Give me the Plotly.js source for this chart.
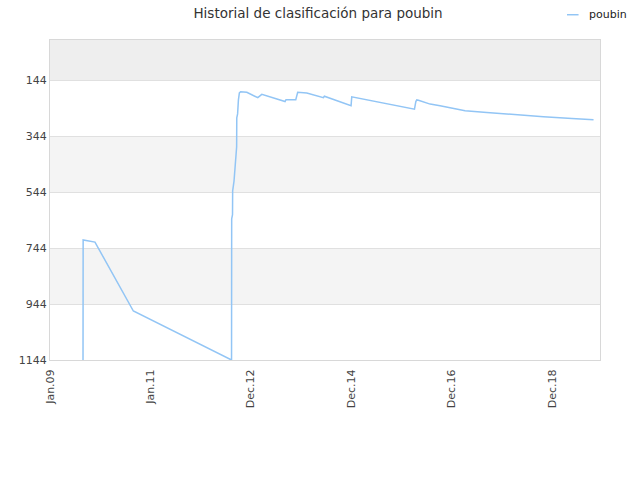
<!DOCTYPE html>
<html>
<head>
<meta charset="utf-8">
<script src="https://cdn.plot.ly/plotly-3.0.1.min.js"></script>
<style>
  html, body { margin: 0; padding: 0; background: #fff; }
  #chart { width: 640px; height: 480px; }
</style>
</head>
<body>
<div id="chart"></div>
<script>
// rank history (lower rank = better, axis reversed)
var seriesName = 'poubin';
var dates = [
  '2009-08-29', '2009-08-30', '2009-11-24', '2010-08-30', '2012-08-13',
  '2012-08-14', '2012-08-20', '2012-08-21', '2012-08-31', '2012-09-07',
  '2012-09-14', '2012-09-19', '2012-09-20', '2012-09-26', '2012-10-02',
  '2012-10-09', '2012-10-18', '2012-12-02', '2013-02-20', '2013-03-21',
  '2013-09-06', '2013-09-13', '2013-11-23', '2013-12-07', '2014-02-11',
  '2014-06-12', '2014-06-19', '2014-12-30', '2015-01-04', '2015-03-06',
  '2016-04-04', '2016-04-14', '2016-04-21', '2016-05-03', '2016-07-27',
  '2016-10-07', '2017-01-12', '2017-04-07', '2017-09-12', '2018-04-06',
  '2018-10-29', '2019-05-24', '2019-10-28'
];
var ranks = [
  1144, 715, 723, 969, 1144,
  640, 625, 540, 505, 470,
  420, 383, 279, 265, 215,
  190, 186, 188, 207, 195,
  221, 214, 214, 188, 190,
  207, 202, 236, 204, 210,
  248, 221, 215, 216, 230,
  236, 245, 254, 260, 268,
  275, 281, 286
];

var xTickVals = ['2009-01-01', '2011-01-01', '2012-12-31', '2014-12-31', '2016-12-30', '2018-12-30'];
var xTickText = ['Jan.09', 'Jan.11', 'Dec.12', 'Dec.14', 'Dec.16', 'Dec.18'];
var yTickVals = [144, 344, 544, 744, 944, 1144];
var yTop = 1;

var lineColor = '#92c5f5';

// alternating background bands between the y ticks
var shapes = [];
shapes.push({
  type: 'rect', xref: 'paper', yref: 'y', x0: 0, x1: 1,
  y0: yTop, y1: yTickVals[0], fillcolor: '#eeeeee', line: {width: 0}, layer: 'below'
});
for (var i = 0; i < yTickVals.length - 1; i++) {
  if (i % 2 === 1) {
    shapes.push({
      type: 'rect', xref: 'paper', yref: 'y', x0: 0, x1: 1,
      y0: yTickVals[i], y1: yTickVals[i + 1], fillcolor: '#f4f4f4', line: {width: 0}, layer: 'below'
    });
  }
}
// hand-drawn legend (short sample line) so the plot area is not pushed
shapes.push({
  type: 'line', xref: 'paper', yref: 'paper',
  x0: 0.940, x1: 0.961, y0: 1.079, y1: 1.079,
  line: {color: lineColor, width: 1.5}
});

var trace1 = {
  x: dates,
  y: ranks,
  mode: 'lines',
  type: 'scatter',
  name: seriesName,
  line: {color: lineColor, width: 1.5},
  hoverinfo: 'none'
};

var layout = {
  width: 640,
  height: 480,
  margin: {l: 50, r: 40, t: 40, b: 120},
  paper_bgcolor: '#ffffff',
  plot_bgcolor: '#ffffff',
  font: {family: 'DejaVu Sans, Verdana, sans-serif', size: 11, color: '#444'},
  title: {
    text: 'Historial de clasificación para poubin',
    font: {family: 'DejaVu Sans, Verdana, sans-serif', size: 13.5, color: '#333'},
    x: 0.497, xanchor: 'center', y: 0.972, yanchor: 'middle'
  },
  showlegend: false,
  annotations: [{
    text: seriesName,
    xref: 'paper', yref: 'paper',
    x: 0.976, y: 1.079, xanchor: 'left', yanchor: 'middle',
    showarrow: false,
    font: {size: 11, color: '#222'}
  }],
  xaxis: {
    type: 'date',
    range: ['2009-01-01', '2019-12-14'],
    tickvals: xTickVals,
    ticktext: xTickText,
    tickangle: -90,
    tickfont: {size: 11, color: '#444'},
    ticklabelstandoff: 4,
    showgrid: false,
    zeroline: false,
    showline: true,
    linecolor: '#d8d8d8',
    linewidth: 1,
    mirror: true,
    ticks: ''
  },
  yaxis: {
    range: [1144, yTop],
    tickvals: yTickVals,
    ticktext: yTickVals.map(String),
    tickfont: {size: 11, color: '#444'},
    showgrid: true,
    gridcolor: '#e0e0e0',
    zeroline: false,
    showline: true,
    linecolor: '#d8d8d8',
    linewidth: 1,
    mirror: true,
    ticks: ''
  },
  shapes: shapes
};

Plotly.newPlot('chart', [trace1], layout, {displayModeBar: false, staticPlot: true});
</script>
</body>
</html>
